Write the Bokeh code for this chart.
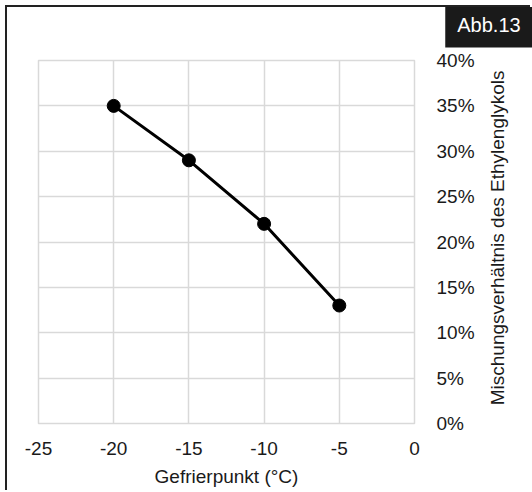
import math
from bokeh.plotting import figure
from bokeh.models import Range1d, FixedTicker, NumeralTickFormatter, LinearAxis, Label
from bokeh.embed import file_html
from bokeh.resources import INLINE

# Data
freezing_point = [-20, -15, -10, -5]
glycol_ratio = [0.35, 0.29, 0.22, 0.13]
x_ticks = [-25, -20, -15, -10, -5, 0]
y_ticks = [0, 0.05, 0.10, 0.15, 0.20, 0.25, 0.30, 0.35, 0.40]
x_title = "Gefrierpunkt (°C)"
y_title = "Mischungsverhältnis des Ethylenglykols"
badge = "Abb.13"

FONT = "Liberation Sans"
GRID = "#d9d9d9"
TXT = "#1a1a1a"

p = figure(width=525, height=485, output_backend="svg", toolbar_location=None,
           x_range=Range1d(-25, 0), y_range=Range1d(0, 0.4),
           y_axis_location=None)
p.min_border_left = 31
p.min_border_top = 53
p.min_border_right = 118
p.min_border_bottom = 69
p.styles = {"position": "relative", "left": "7px", "top": "7px",
            "overflow": "hidden",
            "box-shadow": "-2px -2px 0 0 #222"}
p.outline_line_color = GRID
p.outline_line_width = 1.5
p.background_fill_color = "white"
p.border_fill_color = "white"

# x axis
xa = p.xaxis[0]
xa.ticker = FixedTicker(ticks=x_ticks)
xa.formatter = NumeralTickFormatter(format="0")
xa.axis_line_color = None
xa.major_tick_line_color = None
xa.minor_tick_line_color = None
xa.major_tick_out = 0
xa.major_tick_in = 0
xa.minor_tick_out = 0
xa.major_label_text_font = FONT
xa.major_label_text_font_size = "19px"
xa.major_label_text_color = TXT
xa.major_label_standoff = 18
xa.axis_label = x_title
xa.axis_label_text_font = FONT
xa.axis_label_text_font_size = "19px"
xa.axis_label_text_font_style = "normal"
xa.axis_label_text_color = TXT
xa.axis_label_standoff = 8

# right y axis
ya = LinearAxis(ticker=FixedTicker(ticks=y_ticks), formatter=NumeralTickFormatter(format="0%"))
ya.axis_line_color = None
ya.major_tick_line_color = None
ya.minor_tick_line_color = None
ya.major_tick_out = 0
ya.major_tick_in = 0
ya.minor_tick_out = 0
ya.major_label_text_font = FONT
ya.major_label_text_font_size = "19px"
ya.major_label_text_color = TXT
ya.major_label_standoff = 22
p.add_layout(ya, "right")

# y-axis title, reading bottom to top, placed in the right side panel
ytl = Label(x=5.52, y=0.2045, text=y_title, angle=math.pi / 2,
            text_color=TXT, text_font=FONT, text_font_size="19px",
            text_align="center", text_baseline="middle")
p.add_layout(ytl, "right")

# badge in the top panel
badge_lbl = Label(x=4.95, y=0.4386, text=badge,
                  text_color="white", text_font=FONT, text_font_size="20px",
                  text_align="center", text_baseline="middle",
                  background_fill_color="#1a1a1a", background_fill_alpha=1.0)
try:
    badge_lbl.padding = (12, 11)
except Exception:
    badge_lbl.padding = 10
p.add_layout(badge_lbl, "above")

p.xgrid.ticker = FixedTicker(ticks=x_ticks)
p.ygrid.ticker = FixedTicker(ticks=y_ticks)
p.xgrid.grid_line_color = GRID
p.ygrid.grid_line_color = GRID
p.xgrid.grid_line_width = 1.5
p.ygrid.grid_line_width = 1.5

p.line(freezing_point, glycol_ratio, line_color="black", line_width=3)
p.scatter(freezing_point, glycol_ratio, size=13, fill_color="black", line_color="black")

open("out.html", "w").write(file_html(p, INLINE))
